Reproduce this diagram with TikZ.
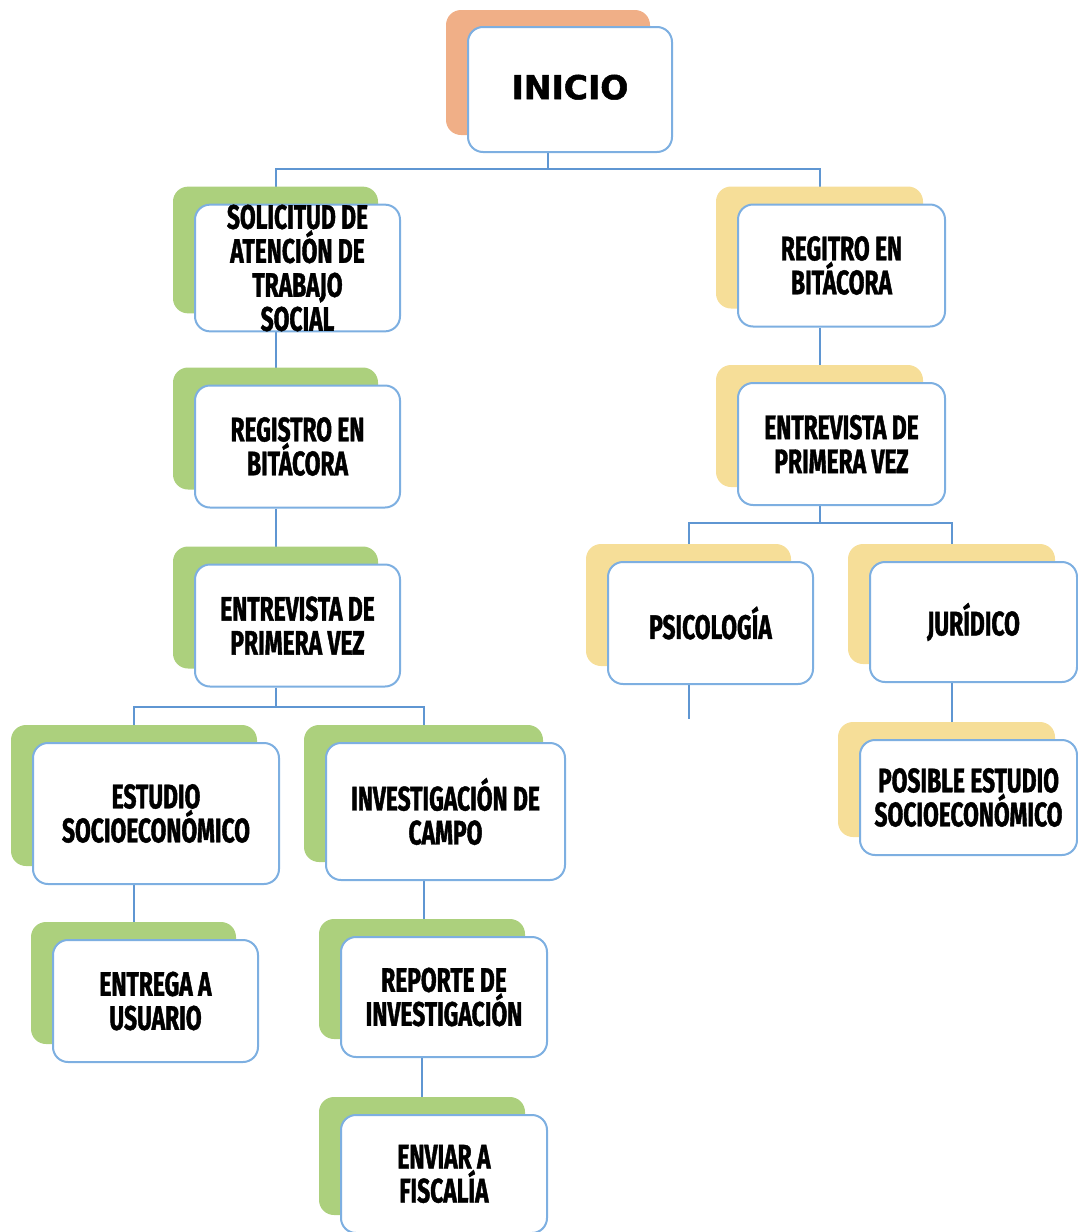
\documentclass[tikz,border=0pt]{standalone}
\usepackage{fontspec}
\usepackage{tikz}
\usetikzlibrary{shadows,backgrounds}
\newfontfamily\cajafont[FakeStretch=0.67, FakeBold=1.2]{Fira Sans}
\newfontfamily\iniciofont[FakeBold=1.5]{DejaVu Sans}
\definecolor{bordeazul}{RGB}{125,175,225}
\definecolor{lineaazul}{RGB}{95,150,210}
\definecolor{fondoverde}{RGB}{172,208,125}
\definecolor{fondoamarillo}{RGB}{246,222,152}
\definecolor{fondonaranja}{RGB}{240,175,135}
\newcommand{\anchocaja}{102.5pt}
\newcommand{\altocaja}{61pt}
\newcommand{\despx}{-11pt}

\begin{document}
\begin{tikzpicture}[x = 0.5pt, y = -0.5pt]
                %\draw[help lines] (0,0) grid (1077,1232);
                \useasboundingbox (0,0) rectangle (1077,1232);
                \tikzset{caja/.style = {draw = bordeazul, line width = 1pt, fill = white, rounded corners = 7.5pt,
                                        minimum width = \anchocaja, minimum height = \altocaja, inner sep = 0pt,
                                        align = center, font = \cajafont\bfseries\fontsize{17}{17}\selectfont},
                         verde/.style = {general shadow = {fill = fondoverde, shadow xshift = \despx, shadow yshift = 9pt}},
                         amarillo/.style = {general shadow = {fill = fondoamarillo, shadow xshift = \despx, shadow yshift = 9pt}},
                         linea/.style = {draw = lineaazul, line width = 1pt}}

                \node[caja, minimum width = 102pt, minimum height = 62.5pt,
                      general shadow = {fill = fondonaranja, shadow xshift = \despx, shadow yshift = 8.5pt},
                      font = \iniciofont\bfseries\fontsize{16.5}{18}\selectfont] (ini) at (570, 89.5) {\raisebox{2.5pt}{INICIO}};

                % rama izquierda
                \node[caja, verde] (s1) at (297.5, 268) {SOLICITUD DE\\ATENCIÓN DE\\TRABAJO\\SOCIAL};
                \node[caja, verde] (s2) at (297.5, 446.5) {REGISTRO EN\\BITÁCORA};
                \node[caja, verde] (s3) at (297.5, 625.5) {ENTREVISTA DE\\PRIMERA VEZ};
                \node[caja, verde, minimum width = 123pt, minimum height = 70.5pt] (s4) at (156, 813.5) {ESTUDIO\\SOCIOECONÓMICO};
                \node[caja, verde, minimum width = 119.5pt, minimum height = 68.5pt] (s5) at (445.5, 811.5) {INVESTIGACIÓN DE\\CAMPO};
                \node[caja, verde] (s6) at (155.5, 1001) {ENTREGA A\\USUARIO};
                \node[caja, verde, minimum width = 103pt, minimum height = 60pt] (s7) at (444, 997) {REPORTE DE\\INVESTIGACIÓN};
                \node[caja, verde, minimum width = 103pt, minimum height = 59pt] (s8) at (444, 1174) {ENVIAR A\\FISCALÍA};

                % rama derecha
                \node[caja, amarillo, minimum width = 103.5pt] (r1) at (841.5, 265.5) {REGITRO EN\\BITÁCORA};
                \node[caja, amarillo, minimum width = 103.5pt] (r2) at (841.5, 444) {ENTREVISTA DE\\PRIMERA VEZ};
                \node[caja, amarillo] (r3) at (710.5, 623) {PSICOLOGÍA};
                \node[caja, amarillo, minimum width = 103.5pt, minimum height = 60pt] (r4) at (973.5, 622) {JURÍDICO};
                \node[caja, amarillo, minimum width = 108.5pt, minimum height = 57.5pt] (r5) at (968.5, 797.5) {POSIBLE ESTUDIO\\SOCIOECONÓMICO};
                \coordinate (psifin) at ([shift = {(\despx, -17pt)}]r3.south);

                \begin{scope}[on background layer]
                    \draw[linea] ([xshift = \despx]ini.south) -- ++(0, 16) -| ([xshift = \despx]s1.north);
                    \draw[linea] ([xshift = \despx]ini.south) -- ++(0, 16) -| ([xshift = \despx]r1.north);
                    \draw[linea] ([xshift = \despx]s1.south) -- ([xshift = \despx]s1.south |- s2.north);
                    \draw[linea] ([xshift = \despx]s2.south) -- ([xshift = \despx]s2.south |- s3.north);
                    \draw[linea] ([xshift = \despx]s3.south) -- ++(0, 19) -| ([xshift = \despx]s4.north);
                    \draw[linea] ([xshift = \despx]s3.south) -- ++(0, 19) -| ([xshift = \despx]s5.north);
                    \draw[linea] ([xshift = \despx]s4.south) -- ([xshift = \despx]s4.south |- s6.north);
                    \draw[linea] ([xshift = \despx]s5.south) -- ([xshift = \despx]s5.south |- s7.north);
                    \draw[linea] ([xshift = \despx]s7.south) -- ([xshift = \despx]s7.south |- s8.north);
                    \draw[linea] ([xshift = \despx]r1.south) -- ([xshift = \despx]r1.south |- r2.north);
                    \draw[linea] ([xshift = \despx]r2.south) -- ++(0, 17) -| ([xshift = \despx]r3.north);
                    \draw[linea] ([xshift = \despx]r2.south) -- ++(0, 17) -| ([xshift = \despx]r4.north);
                    \draw[linea] ([xshift = \despx]r3.south) -- (psifin);
                    \draw[linea] ([xshift = \despx]r4.south) -- ([xshift = \despx]r4.south |- r5.north);
                \end{scope}
\end{tikzpicture}
\end{document}
